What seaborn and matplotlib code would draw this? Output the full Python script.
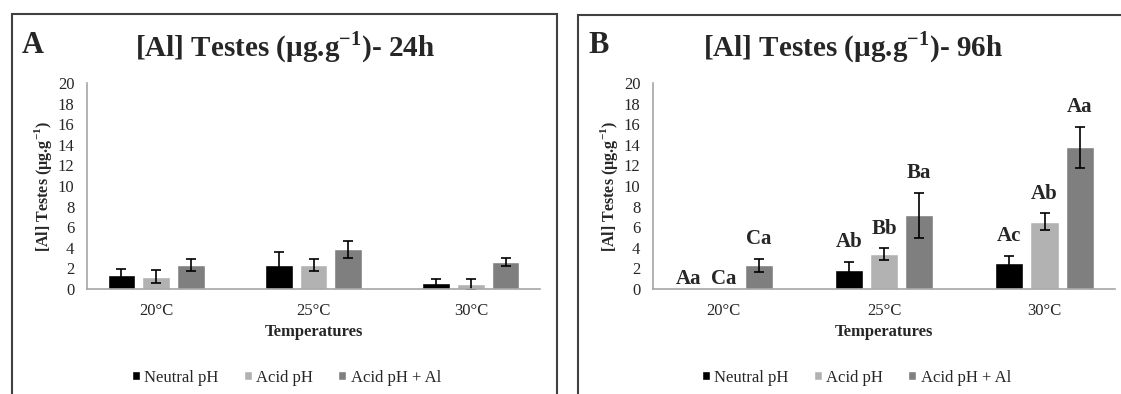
import numpy as np
import pandas as pd
import seaborn as sns
import matplotlib.pyplot as plt
from matplotlib.patches import Rectangle

# data
temperatures = ['20°C', '25°C', '30°C']
treatments = ['Neutral pH', 'Acid pH', 'Acid pH + Al']
colors = ['#000000', '#b2b2b2', '#7f7f7f']

mean_24h = {'Neutral pH': [1.4, 2.35, 0.6],
            'Acid pH': [1.2, 2.35, 0.45],
            'Acid pH + Al': [2.35, 3.85, 2.6]}
sd_24h = {'Neutral pH': [0.5, 1.2, 0.35],
          'Acid pH': [0.65, 0.6, 0.5],
          'Acid pH + Al': [0.6, 0.8, 0.4]}

mean_96h = {'Neutral pH': [0.0, 1.85, 2.55],
            'Acid pH': [0.0, 3.4, 6.55],
            'Acid pH + Al': [2.3, 7.15, 13.75]}
sd_96h = {'Neutral pH': [0.0, 0.8, 0.65],
          'Acid pH': [0.0, 0.55, 0.8],
          'Acid pH + Al': [0.65, 2.15, 2.0]}
letters_96h = {'Neutral pH': ['Aa', 'Ab', 'Ac'],
               'Acid pH': ['Ca', 'Bb', 'Ab'],
               'Acid pH + Al': ['Ca', 'Ba', 'Aa']}

sns.set_style('white')
plt.rcParams['font.family'] = ['Liberation Serif', 'DejaVu Serif']
plt.rcParams['mathtext.fontset'] = 'custom'
plt.rcParams['mathtext.rm'] = 'Liberation Serif'
plt.rcParams['mathtext.bf'] = 'Liberation Serif:bold'

W, H = 1121, 394
fig = plt.figure(figsize=(W / 100, H / 100), dpi=100)


def px(x0, y_top, x1, y_bot):
    return [x0 / W, 1 - y_bot / H, (x1 - x0) / W, (y_bot - y_top) / H]


def panel(rect, means, sds, letters, box, tag, title, title_x):
    ax = fig.add_axes(px(*rect))
    df = pd.DataFrame([(t, tr, means[tr][i]) for tr in treatments
                       for i, t in enumerate(temperatures)],
                      columns=['Temperature', 'Treatment', 'value'])
    sns.barplot(data=df, x='Temperature', y='value', hue='Treatment',
                hue_order=treatments, palette=colors, errorbar=None,
                width=0.66, gap=0.2, saturation=1, ax=ax)
    for cont, tr in zip(ax.containers, treatments):
        xs = np.array([b.get_x() + b.get_width() / 2 for b in cont])
        m = np.array(means[tr])
        s = np.array(sds[tr])
        ok = s > 0
        ax.errorbar(xs[ok], m[ok], yerr=s[ok], fmt='none', ecolor='black',
                    elinewidth=1.2, capsize=3.5, capthick=1.2)
        if letters is not None:
            for x, y, sd, lab in zip(xs, m + s, s, letters[tr]):
                ax.annotate(lab, (x, y), xytext=(0, 7 if sd > 0 else 0),
                            textcoords='offset points', ha='center', va='bottom',
                            fontsize=15, fontweight='bold')
    ax.set_ylim(0, 20)
    ax.set_yticks(range(0, 21, 2))
    ax.tick_params(axis='both', length=0, labelsize=12)
    ax.tick_params(axis='y', pad=9)
    ax.tick_params(axis='x', pad=10)
    for sp in ['top', 'right']:
        ax.spines[sp].set_visible(False)
    for sp in ['left', 'bottom']:
        ax.spines[sp].set_color('#a6a6a6')
        ax.spines[sp].set_linewidth(1.2)
    ax.set_xlabel('Temperatures', fontsize=12, fontweight='bold', labelpad=4)
    ax.set_ylabel(r'[Al] Testes (µg.g$^{\mathbf{-1}}$)', fontsize=11.5,
                  fontweight='bold', labelpad=3)
    sns.move_legend(ax, 'center', bbox_to_anchor=(0.44, -0.43), ncol=3,
                    frameon=False, title=None, fontsize=12, handlelength=0.5,
                    handleheight=0.5, handletextpad=0.25, columnspacing=1.5)
    fig.add_artist(Rectangle((box[0] / W, -0.1), (box[1] - box[0]) / W,
                             1 - box[2] / H + 0.1, transform=fig.transFigure,
                             fill=False, ec='#404040', lw=1.5))
    fig.text((box[0] + 10) / W, 1 - 53 / H, tag, fontsize=22, fontweight='bold',
             ha='left', va='baseline')
    fig.text(title_x / W, 1 - 47 / H, title, fontsize=21, fontweight='bold',
             ha='center', va='center')
    return ax


panel((87, 83, 540, 289), mean_24h, sd_24h, None, (12, 557, 14), 'A',
      r'[Al] Testes (µg.g$^{\mathbf{-1}}$)- 24h', 285)
panel((653, 83, 1115, 289), mean_96h, sd_96h, letters_96h, (578, 1130, 15), 'B',
      r'[Al] Testes (µg.g$^{\mathbf{-1}}$)- 96h', 853)

fig.savefig('out.png', dpi=100)
